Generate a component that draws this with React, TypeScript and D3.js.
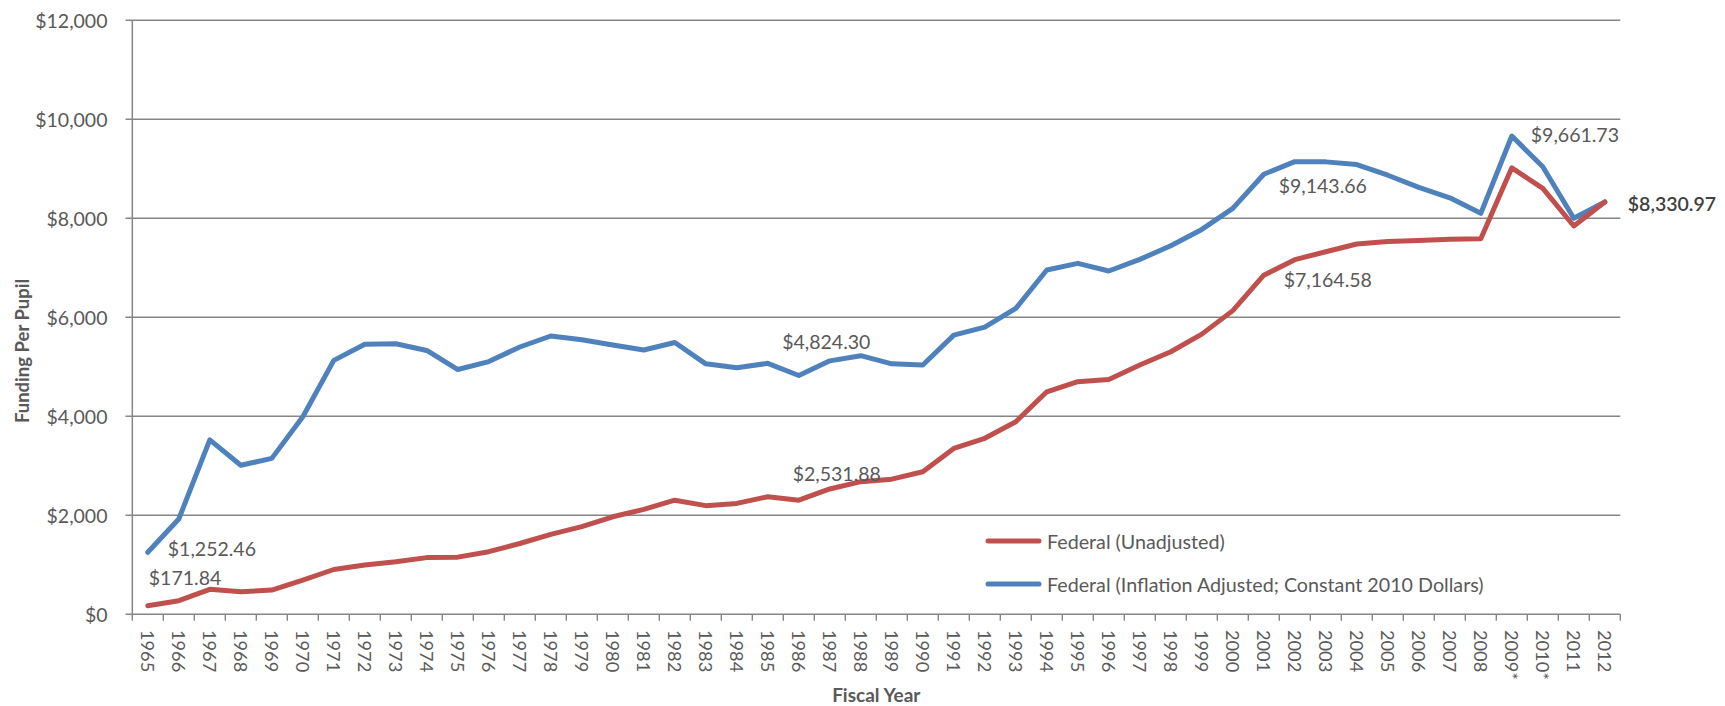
import React from "react";
import * as d3 from "d3";

const years = [
  "1965","1966","1967","1968","1969","1970","1971","1972","1973","1974",
  "1975","1976","1977","1978","1979","1980","1981","1982","1983","1984",
  "1985","1986","1987","1988","1989","1990","1991","1992","1993","1994",
  "1995","1996","1997","1998","1999","2000","2001","2002","2003","2004",
  "2005","2006","2007","2008","2009*","2010*","2011","2012",
];

const unadjusted = [
  171.84, 275, 505, 455, 490, 690, 905, 995, 1060, 1145,
  1155, 1265, 1430, 1615, 1770, 1970, 2120, 2305, 2195, 2240,
  2375, 2305, 2531.88, 2680, 2730, 2880, 3350, 3555, 3890, 4495,
  4700, 4745, 5035, 5305, 5660, 6135, 6850, 7164.58, 7325, 7480,
  7530, 7550, 7575, 7585, 9020, 8605, 7845, 8330.97,
];

const adjusted = [
  1252.46, 1925, 3525, 3010, 3150, 3990, 5130, 5455, 5465, 5330,
  4945, 5105, 5400, 5622, 5545, 5440, 5340, 5490, 5060, 4980,
  5070, 4824.3, 5120, 5225, 5060, 5035, 5640, 5800, 6180, 6955,
  7090, 6935, 7170, 7445, 7775, 8200, 8890, 9143.66, 9140, 9085,
  8870, 8625, 8415, 8100, 9661.73, 9040, 8000, 8330.97,
];

const yTicks = [0, 2000, 4000, 6000, 8000, 10000, 12000];

const seriesNames = [
  "Federal (Unadjusted)",
  "Federal (Inflation Adjusted; Constant 2010 Dollars)",
];

// annotations: series, year, text
const annotationSeries = ["adj", "unadj", "adj", "unadj", "adj", "unadj", "adj", "adj"];
const annotationYears = ["1965", "1965", "1986", "1987", "2002", "2002", "2009*", "2012"];
const annotationTexts = ["$1,252.46", "$171.84", "$4,824.30", "$2,531.88", "$9,143.66", "$7,164.58", "$9,661.73", "$8,330.97"];

const W = 1725;
const H = 706;
const FONT = "Lato, 'Open Sans', sans-serif";
const TXT = "#595959";
const GRID = "#868686";
const RED = "#C0504D";
const BLUE = "#4F81BD";

export default function App() {
  const x = d3.scaleBand<string>().domain(years).range([132.3, 1620.3]).padding(0);
  const y = d3.scaleLinear().domain([0, 12000]).range([614.3, 20.3]);
  const cx = (yr: string) => (x(yr) as number) + x.bandwidth() / 2;

  const line = d3
    .line<number>()
    .x((_, i) => cx(years[i]))
    .y((d) => y(d));

  const fmt = (v: number) => "$" + d3.format(",")(v);

  // label placement offsets (style only)
  const offsets: Record<string, [number, number, string]> = {
    "0": [20, -4, "start"],
    "1": [1, -28, "start"],
    "2": [27.5, -34, "middle"],
    "3": [7, -15, "middle"],
    "4": [28, 24, "middle"],
    "5": [33, 20, "middle"],
    "6": [19, -2, "start"],
    "7": [23, 2, "start"],
  };

  const x0 = x.range()[0];
  const x1 = x.range()[1];

  return (
    <svg
      width={W}
      height={H}
      style={{ position: "absolute", left: 0, top: 0, background: "#fff" }}
      fontFamily={FONT}
    >
      <rect width={W} height={H} fill="#fff" />
      {yTicks.map((t) => (
        <g key={t}>
          <line x1={125.5} x2={x1} y1={y(t)} y2={y(t)} stroke={GRID} strokeWidth={1.4} />
          <text
            x={107.5}
            y={y(t)}
            textAnchor="end"
            dominantBaseline="central"
            fontSize={19.5}
            fill={TXT}
          >
            {fmt(t)}
          </text>
        </g>
      ))}
      <line x1={x0} x2={x0} y1={y(12000)} y2={y(0)} stroke={GRID} strokeWidth={1.5} />
      {years.concat(["__end"]).map((yr, i) => {
        const xx = i < years.length ? (x(yr) as number) : x1;
        return <line key={"t" + i} x1={xx} x2={xx} y1={y(0)} y2={y(0) + 6.5} stroke={GRID} strokeWidth={1.4} />;
      })}
      {years.map((yr) => (
        <text
          key={"l" + yr}
          transform={`translate(${cx(yr)},${630}) rotate(90)`}
          textAnchor="start"
          dominantBaseline="central"
          fontSize={18.2}
          fill={TXT}
        >
          {yr}
        </text>
      ))}
      <path
        d={line(adjusted) || ""}
        fill="none"
        stroke={BLUE}
        strokeWidth={5}
        strokeLinejoin="round"
        strokeLinecap="round"
      />
      <path
        d={line(unadjusted) || ""}
        fill="none"
        stroke={RED}
        strokeWidth={5}
        strokeLinejoin="round"
        strokeLinecap="round"
      />
      {annotationTexts.map((t, i) => {
        const yr = annotationYears[i];
        const idx = years.indexOf(yr);
        const v = annotationSeries[i] === "adj" ? adjusted[idx] : unadjusted[idx];
        const [dx, dy, anchor] = offsets[String(i)];
        return (
          <text
            key={"a" + i}
            x={cx(yr) + dx}
            y={y(v) + dy}
            textAnchor={anchor as any}
            dominantBaseline="central"
            fontSize={19.5}
            fill={i === 7 ? "#404040" : TXT}
            fontWeight={i === 7 ? 600 : 400}
          >
            {t}
          </text>
        );
      })}
      {seriesNames.map((name, i) => {
        const ly = 541 + i * 43;
        return (
          <g key={name}>
            <line x1={988} x2={1039} y1={ly} y2={ly} stroke={i === 0 ? RED : BLUE} strokeWidth={5} strokeLinecap="round" />
            <text x={1047} y={ly} dominantBaseline="central" fontSize={19.7} fill={TXT}>
              {name}
            </text>
          </g>
        );
      })}
      <text
        transform={`translate(${22},${351}) rotate(-90)`}
        textAnchor="middle"
        dominantBaseline="central"
        fontSize={18.5}
        fontWeight={700}
        fill={TXT}
      >
        Funding Per Pupil
      </text>
      <text
        x={(x0 + x1) / 2}
        y={694}
        textAnchor="middle"
        dominantBaseline="central"
        fontSize={19}
        fontWeight={700}
        fill={TXT}
      >
        Fiscal Year
      </text>
    </svg>
  );
}
